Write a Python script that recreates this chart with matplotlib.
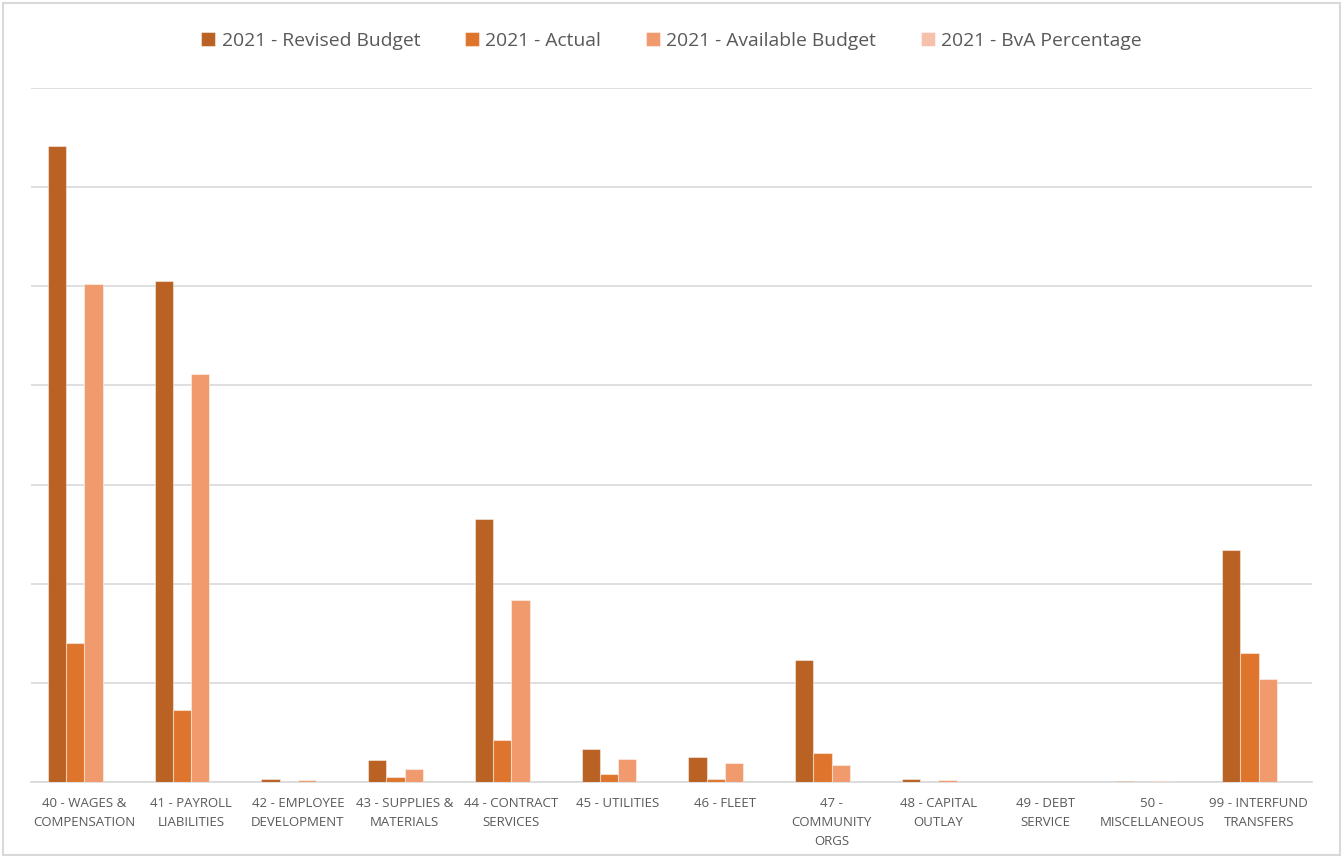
import matplotlib.pyplot as plt
import numpy as np
from matplotlib.patches import Rectangle

plt.rcParams['font.family'] = ['Open Sans', 'DejaVu Sans']

categories = ["40 - WAGES &\nCOMPENSATION", "41 - PAYROLL\nLIABILITIES", "42 - EMPLOYEE\nDEVELOPMENT",
              "43 - SUPPLIES &\nMATERIALS", "44 - CONTRACT\nSERVICES", "45 - UTILITIES", "46 - FLEET",
              "47 -\nCOMMUNITY\nORGS", "48 - CAPITAL\nOUTLAY", "49 - DEBT\nSERVICE", "50 -\nMISCELLANEOUS",
              "99 - INTERFUND\nTRANSFERS"]

revised_budget = [6.42, 5.05, 0.035, 0.22, 2.65, 0.33, 0.25, 1.23, 0.03, 0.0, 0.012, 2.34]
actual = [1.40, 0.73, 0.003, 0.05, 0.42, 0.08, 0.03, 0.29, 0.004, 0.0, 0.0, 1.30]
available_budget = [5.02, 4.12, 0.025, 0.13, 1.84, 0.23, 0.19, 0.17, 0.025, 0.0, 0.012, 1.04]
bva_percentage = [0.0] * 12

series = [("2021 - Revised Budget", revised_budget, "#BA6124"),
          ("2021 - Actual", actual, "#DF752D"),
          ("2021 - Available Budget", available_budget, "#F09A6E"),
          ("2021 - BvA Percentage", bva_percentage, "#F6C1AA")]

fig = plt.figure(figsize=(13.43, 8.58), dpi=100)
ax = fig.add_axes([31 / 1343, 76 / 858, 1281 / 1343, 694 / 858])

x = np.arange(len(categories))
w = 0.1715
for i, (name, vals, color) in enumerate(series):
    ax.bar(x + (i - 1.5) * w, vals, width=w, color=color, label=name,
           edgecolor=(1, 1, 1, 0.45), linewidth=0.8, zorder=3)

ax.set_xlim(-0.5, len(categories) - 0.5)
ax.set_ylim(0, 7)
ax.set_yticks(np.arange(0, 8, 1))
ax.yaxis.grid(True, color="#D9D9D9", linewidth=1.2, zorder=0)
ax.set_yticklabels([])
ax.tick_params(axis="y", length=0)
ax.tick_params(axis="x", length=0, pad=10.5)
ax.set_xticks(x)
ax.set_xticklabels(categories, fontsize=9.5, color="#595959", linespacing=1.6)
for s in ["top", "right", "left"]:
    ax.spines[s].set_visible(False)
ax.spines["bottom"].set_color("#D9D9D9")
ax.spines["bottom"].set_linewidth(1.2)

fig.legend(loc="center", bbox_to_anchor=(0.5, 1 - 41 / 858), ncol=4, frameon=False,
           fontsize=13.9, labelcolor="#595959", handlelength=0.72, handleheight=0.72,
           handletextpad=0.35, columnspacing=2.3)

fig.patches.append(Rectangle((3 / 1343, 3 / 858), 1337 / 1343, 852 / 858, transform=fig.transFigure,
                             fill=False, edgecolor="#D9D9D9", linewidth=1.5))

fig.savefig("out.png", dpi=100, facecolor="white")
